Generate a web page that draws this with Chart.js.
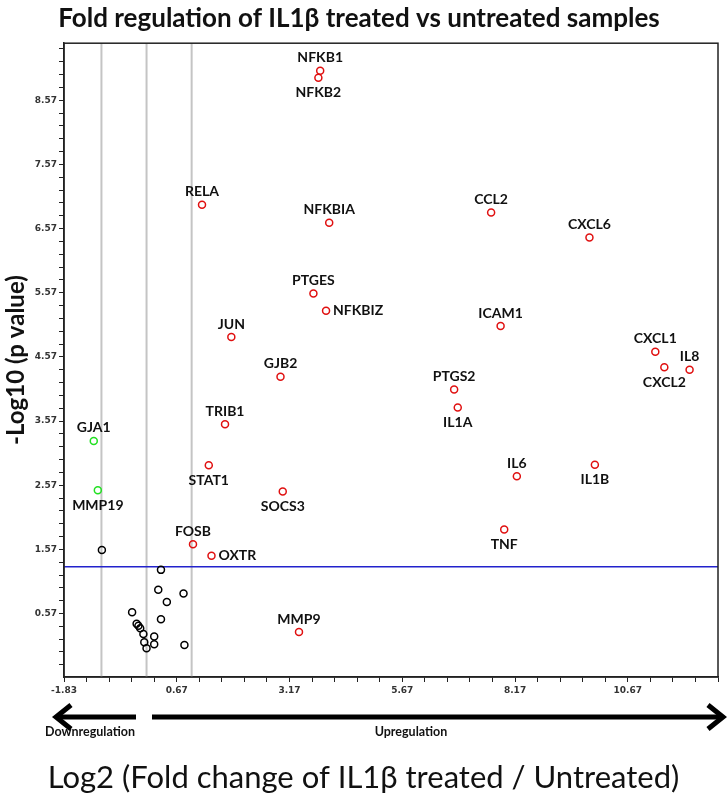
<!DOCTYPE html>
<html>
<head>
<meta charset="utf-8">
<script src="https://cdn.jsdelivr.net/npm/chart.js@4"></script>
<style>
  html, body { margin: 0; padding: 0; background: #fff; }
  #wrap { width: 727px; height: 797px; }
</style>
</head>
<body>
<div id="wrap"><canvas id="volcano"></canvas></div>
<script>
// up-regulated genes (red)
const upGenes = ['NFKB1', 'NFKB2', 'RELA', 'NFKBIA', 'CCL2', 'CXCL6', 'PTGES', 'NFKBIZ', 'ICAM1', 'JUN',
  'GJB2', 'CXCL1', 'CXCL2', 'IL8', 'PTGS2', 'IL1A', 'TRIB1', 'STAT1', 'IL1B', 'IL6',
  'SOCS3', 'TNF', 'FOSB', 'OXTR', 'MMP9'];
const upLog2FC = [3.85, 3.81, 1.23, 4.05, 7.64, 9.82, 3.70, 3.98, 7.85, 1.88,
  2.97, 11.28, 11.48, 12.04, 6.82, 6.90, 1.74, 1.38, 9.94, 8.21,
  3.02, 7.93, 1.03, 1.44, 3.38];
const upNegLogP = [9.03, 8.92, 6.94, 6.66, 6.82, 6.43, 5.56, 5.29, 5.05, 4.88,
  4.26, 4.65, 4.41, 4.37, 4.06, 3.78, 3.52, 2.88, 2.89, 2.71,
  2.47, 1.88, 1.65, 1.47, 0.28];
const upLabelPos = ['top', 'bottom', 'top', 'top', 'top', 'top', 'top', 'right', 'top', 'top',
  'top', 'top', 'bottom', 'top', 'top', 'bottom', 'top', 'bottom', 'bottom', 'top',
  'bottom', 'bottom', 'top', 'right', 'top'];

// down-regulated genes (green)
const downGenes = ['GJA1', 'MMP19'];
const downLog2FC = [-1.17, -1.08];
const downNegLogP = [3.26, 2.49];
const downLabelPos = ['top', 'bottom'];

// not significant (black, no labels)
const nsLog2FC = [-0.99, 0.32, 0.26, 0.82, 0.45, -0.32, 0.32, -0.22, -0.18, -0.14,
  -0.07, 0.17, -0.05, 0.17, 0.00, 0.84];
const nsNegLogP = [1.56, 1.25, 0.94, 0.88, 0.75, 0.59, 0.48, 0.41, 0.38, 0.34,
  0.25, 0.21, 0.12, 0.09, 0.03, 0.08];

const foldLines = [-1, 0, 1];
const pLine = 1.3;

const xMin = -1.83, xMax = 12.67, xMinorStep = 0.5;
const yMin = -0.42, yMax = 9.46, yMinorStep = 0.2;
const xTickLabels = ['-1.83', '0.67', '3.17', '5.67', '8.17', '10.67'];
const yTickLabels = ['0.57', '1.57', '2.57', '3.57', '4.57', '5.57', '6.57', '7.57', '8.57'];

function toPoints(xs, ys) {
  return xs.map((x, i) => ({ x: x, y: ys[i] }));
}

function makeTicks(labels, step) {
  return function (scale) {
    const start = parseFloat(labels[0]);
    const ticks = [];
    let k = Math.ceil((scale.min - start) / step - 1e-6);
    for (; start + k * step <= scale.max + 1e-6; k++) {
      ticks.push({ value: +(start + k * step).toFixed(2) });
    }
    scale.ticks = ticks;
  };
}

const refLines = foldLines.map((v) => ({
  type: 'line',
  data: [{ x: v, y: yMin }, { x: v, y: yMax }],
  borderColor: '#c4c4c4',
  borderWidth: 2,
  pointRadius: 0,
  order: 3
}));
refLines.push({
  type: 'line',
  data: [{ x: xMin, y: pLine }, { x: xMax, y: pLine }],
  borderColor: '#2222cc',
  borderWidth: 1.5,
  pointRadius: 0,
  order: 2
});

function pointSet(xs, ys, color, genes, pos) {
  return {
    data: toPoints(xs, ys),
    genes: genes,
    labelPos: pos,
    pointRadius: 3.5,
    pointBorderWidth: 1.5,
    borderColor: color,
    backgroundColor: 'rgba(0,0,0,0)',
    order: 1
  };
}

const geneLabels = {
  id: 'geneLabels',
  afterDatasetsDraw(chart) {
    const ctx = chart.ctx;
    ctx.save();
    ctx.font = 'bold 14px Lato';
    ctx.fillStyle = '#111';
    ctx.textBaseline = 'middle';
    chart.data.datasets.forEach((ds, i) => {
      if (!ds.genes) return;
      chart.getDatasetMeta(i).data.forEach((el, j) => {
        const pos = ds.labelPos[j];
        if (pos === 'right') {
          ctx.textAlign = 'left';
          ctx.fillText(ds.genes[j], el.x + 7, el.y);
        } else {
          ctx.textAlign = 'center';
          ctx.fillText(ds.genes[j], el.x, pos === 'top' ? el.y - 13 : el.y + 15);
        }
      });
    });
    ctx.restore();
  }
};

const frameAndArrows = {
  id: 'frameAndArrows',
  afterDraw(chart) {
    const ctx = chart.ctx;
    const a = chart.chartArea;
    ctx.save();
    ctx.strokeStyle = '#222';
    ctx.lineWidth = 1.5;
    ctx.strokeRect(a.left, a.top, a.right - a.left, a.bottom - a.top);

    // direction arrows under the x axis
    const y = a.bottom + 40;
    ctx.strokeStyle = '#000';
    ctx.lineCap = 'butt';
    const arrow = (x0, x1) => {
      const dir = Math.sign(x1 - x0);
      ctx.beginPath();
      ctx.lineWidth = 5;
      ctx.moveTo(x0, y);
      ctx.lineTo(x1 - dir * 4, y);
      ctx.stroke();
      ctx.beginPath();
      ctx.lineJoin = 'miter';
      ctx.moveTo(x1 - dir * 15, y - 12);
      ctx.lineTo(x1, y);
      ctx.lineTo(x1 - dir * 15, y + 12);
      ctx.stroke();
    };
    arrow(a.left + 72, a.left - 8);
    arrow(a.left + 88, a.right + 5);

    ctx.fillStyle = '#111';
    ctx.font = 'bold 12.5px Lato';
    ctx.textAlign = 'center';
    ctx.textBaseline = 'middle';
    ctx.fillText('Downregulation', a.left + 26, y + 15);
    ctx.fillText('Upregulation', 411, y + 15);

    ctx.font = '31px Lato';
    ctx.fillText('Log2 (Fold change of IL1\u03b2 treated / Untreated)', chart.width / 2, a.bottom + 101);
    ctx.restore();
  }
};

const tickFont = { family: 'DejaVu Sans', size: 9, weight: 'bold' };

new Chart(document.getElementById('volcano'), {
  type: 'scatter',
  data: {
    datasets: [
      pointSet(upLog2FC, upNegLogP, '#e01010', upGenes, upLabelPos),
      pointSet(downLog2FC, downNegLogP, '#22e022', downGenes, downLabelPos),
      pointSet(nsLog2FC, nsNegLogP, '#000', null, null),
      ...refLines
    ]
  },
  options: {
    responsive: true,
    maintainAspectRatio: false,
    animation: false,
    layout: { padding: { left: 0, right: 9, top: 0, bottom: 0 } },
    plugins: {
      legend: { display: false },
      tooltip: { enabled: false },
      title: {
        display: true,
        text: 'Fold regulation of IL1\u03b2 treated vs untreated samples',
        color: '#111',
        font: { family: 'Lato', size: 26, weight: 'bold' },
        padding: { top: 3, bottom: 9 }
      }
    },
    scales: {
      x: {
        type: 'linear',
        min: xMin,
        max: xMax,
        afterBuildTicks: makeTicks(xTickLabels, xMinorStep),
        afterFit: (s) => { s.height = 120; },
        ticks: {
          autoSkip: false,
          maxRotation: 0,
          padding: 3,
          color: '#333',
          font: tickFont,
          callback: (v) => xTickLabels.includes(v.toFixed(2)) ? v.toFixed(2) : ''
        },
        grid: { drawOnChartArea: false, tickLength: 5, tickColor: '#222' },
        border: { color: '#222', width: 1.5 }
      },
      y: {
        type: 'linear',
        min: yMin,
        max: yMax,
        afterBuildTicks: makeTicks(yTickLabels, yMinorStep),
        afterFit: (s) => { s.width = 64; },
        ticks: {
          autoSkip: false,
          padding: 2,
          color: '#333',
          font: tickFont,
          callback: (v) => yTickLabels.includes(v.toFixed(2)) ? v.toFixed(2) : ''
        },
        grid: { drawOnChartArea: false, tickLength: 5, tickColor: '#222' },
        border: { color: '#222', width: 1.5 },
        title: {
          display: true,
          text: '-Log10 (p value)',
          color: '#111',
          font: { family: 'Lato', size: 24, weight: 'bold' },
          padding: { top: 2 }
        }
      }
    }
  },
  plugins: [geneLabels, frameAndArrows]
});
</script>
</body>
</html>
